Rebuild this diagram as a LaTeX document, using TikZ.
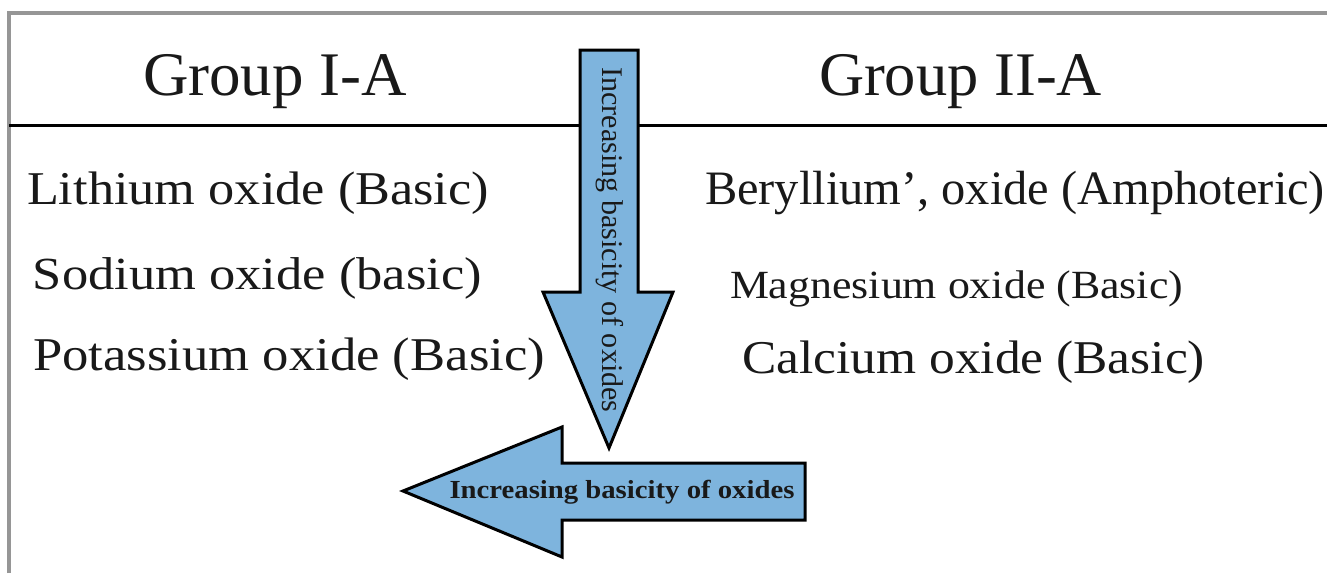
\documentclass[tikz,border=0pt]{standalone}
\usepackage{fontspec}
\setmainfont{Liberation Serif}
\usepackage{graphicx}
\definecolor{arrowblue}{RGB}{126,180,221}
\definecolor{framegray}{RGB}{150,150,150}
\definecolor{inkc}{RGB}{25,25,25}
\newcommand{\fittext}[3]{\resizebox{#1pt}{\height}{\fontsize{#2}{#2}\selectfont #3}}
\begin{document}
\begin{tikzpicture}[x=1pt,y=-1pt,
  txt/.style={anchor=base west,inner sep=0pt,outer sep=0pt,text=inkc},
  bigarrow/.style={draw=black,fill=arrowblue,line width=3pt,line join=miter}]
\useasboundingbox (0,0) rectangle (1327,573);
% frame
\draw[framegray,line width=4pt] (9,573) -- (9,13) -- (1327,13);
% separator
\draw[black,line width=3pt] (9,125) -- (1327,125);
% headings
\node[txt] (g1) at (143,95) {\fittext{264}{62}{Group I-A}};
\node[txt] (g2) at (819,95) {\fittext{283}{62}{Group II-A}};
% left list
\node[txt] (li) at (27,204) {\fittext{462}{47}{Lithium oxide (Basic)}};
\node[txt] (na) at (33,289) {\fittext{449}{46}{Sodium oxide (basic)}};
\node[txt] (k) at (33,370) {\fittext{512}{47}{Potassium oxide (Basic)}};
% right list
\node[txt] (be) at (705,204) {\fittext{620}{48}{Beryllium’, oxide (Amphoteric)}};
\node[txt] (mg) at (730,298) {\fittext{453}{40}{Magnesium oxide (Basic)}};
\node[txt] (ca) at (742,373) {\fittext{463}{47}{Calcium oxide (Basic)}};
% down arrow
\draw[bigarrow] (580,50) -- (638,50) -- (638,292) -- (673,292) -- (609,448) -- (543,292) -- (580,292) -- cycle;
\node[inner sep=0pt,rotate=-90,text=inkc] (dtext) at (610,240) {\fittext{345}{30}{Increasing basicity of oxides}};
% left arrow
\draw[bigarrow] (403,491) -- (562,427) -- (562,463) -- (805,463) -- (805,520) -- (562,520) -- (562,557) -- cycle;
\node[inner sep=0pt,text=inkc] (ltext) at (622,492) {\fittext{345}{26}{\bfseries Increasing basicity of oxides}};
\end{tikzpicture}
\end{document}
